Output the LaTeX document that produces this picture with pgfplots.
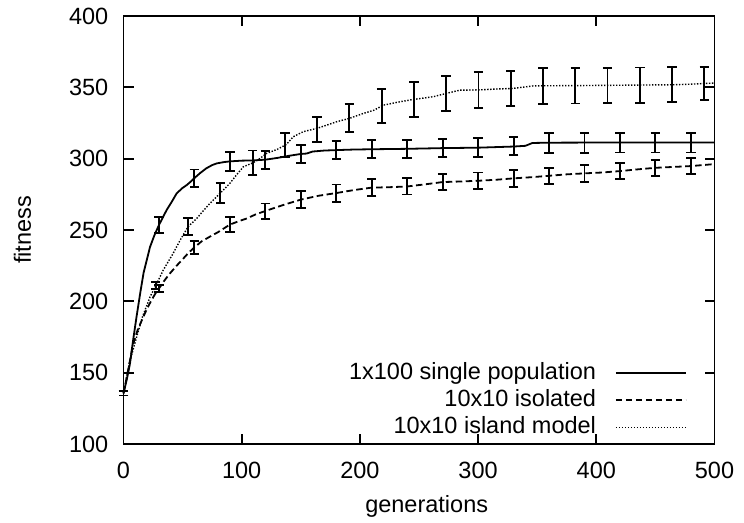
\documentclass[border=0pt]{standalone}
\usepackage{pgfplots}
\pgfplotsset{compat=1.18}
\usepackage{pgfplotstable}
\usepackage{fontspec}
\setmainfont{Liberation Sans}

\pgfplotstableread{
x y
0 135.5
3 146
5.5 156.5
8 172
11 189
14 205
17 220
20 230
22.4 238
26 246
30 253.5
36.5 264
41 270
45 275.7
50 279.5
53.5 281.5
57 284
60 286.4
65 290
70 293.2
75 295.5
79 296.7
85 297.6
90 298.1
100 298.6
110 298.8
120 299.3
130 300.5
140 302
150 303.3
155 303.6
160 305
170 305.7
180 306
195 306.4
210 306.6
240 306.9
270 307.4
300 307.7
330 308.5
340 309
346 311
360 311.2
400 311.3
500 311.4
}\single

\pgfplotstableread{
x y e
0 135.5 1.5
30 253.5 5.8
60 286.4 6
90 298.1 6.5
120 299.3 6.3
150 303.3 6.3
180 305.9 6.4
210 306.6 6.4
240 306.9 6.3
270 307.4 6.1
300 307.8 6.4
330 309 6.4
360 311 6.8
390 311.2 7
420 311.3 7
450 311.3 7
480 311.3 7
}\singleerr

\pgfplotstableread{
x y
0 135.5
4 152
8.3 170.6
12 180
16.8 189.2
20 195
23.8 201
27 205.5
30 209
35 215
39.3 219.6
45 225
50.6 230
55 234
60 237.8
66 242
73 245.3
80 248.5
90 253.8
97 256
104 258
112 261
120 263.3
135 267.5
150 271.3
165 274
180 275.9
195 278
210 279.7
225 280
240 280.5
255 282
270 283.6
285 284
300 284.5
315 285.2
330 286.2
345 287
360 288
375 289
390 289.7
405 290.3
420 291.3
435 292.5
450 293.6
465 294.2
480 294.8
500 296.2
}\isolated

\pgfplotstableread{
x y e
0 135.5 1.5
30 209 2.5
60 237.8 4.5
90 253.8 5
120 263.3 5.3
150 271.3 6
180 275.9 6
210 279.7 6
240 280.7 5.8
270 283.6 5.6
300 284.5 5.8
330 286.2 5.8
360 288 5.7
390 289.7 5.8
420 291.3 5.6
450 293.6 5.5
480 294.8 5.5
}\isolatederr

\pgfplotstableread{
x y
0 135.5
5 157
11.2 175.2
16 189
22.4 203
27.3 211
33.7 222
42 233.6
48 243
54.6 252.3
61.9 258
67 263
73.2 268.7
81.9 275.9
90 282.7
96 289
101.4 294.3
109.8 297.2
115.5 300.2
121 303.7
130 306.5
137.5 309.8
143.7 315.4
152 318.9
163.5 321.2
172 323.5
180.4 325.9
191 328.2
202.9 331.7
212 334
219.8 337.5
233.9 339.9
246 341.6
262 343.4
273.4 345.8
284.5 348
300.8 348.2
315 348.8
328.9 349.2
346.7 351
355.8 351.1
382.6 351.2
410 351.4
437.6 351.6
465 351.8
480 352.2
492 352.7
500 353
}\island

\pgfplotstableread{
x y e
0 135.5 1.5
27.3 211 2.5
54.6 252.3 5.8
81.9 275.9 6.8
109.2 297.2 8.5
136.5 309.8 8.4
163.8 320.6 8.8
191.1 328.5 9.6
218.4 337 11.7
245.7 341.5 12
273 345.7 12
300.3 348 12.5
327.6 349.2 12.4
354.9 351.1 12.5
382.2 351.1 12.4
409.5 351.4 12.3
436.8 351.6 12.3
464.1 351.8 12.3
491.4 352.7 11.7
}\islanderr

\begin{document}
\begin{tikzpicture}[font=\fontsize{23.5bp}{27bp}\selectfont]
\begin{axis}[
  scale only axis,
  width=591bp, height=428bp,
  xmin=0, xmax=500, ymin=100, ymax=400,
  xtick={0,100,...,500}, ytick={100,150,...,400},
  clip=false,
  tick align=inside,
  major tick length=10bp,
  axis line style={line width=1.8bp, black},
  every tick/.style={line width=1.8bp, black},
  /pgf/number format/assume math mode=true,
  yticklabel style={inner sep=0pt, xshift=-15bp},
  xticklabel style={inner sep=0pt, yshift=-17.5bp},
  xlabel={generations},
  ylabel={fitness},
  xlabel style={at={(axis description cs:0.513,-0.1612)}, anchor=base, inner sep=0pt},
  ylabel style={at={(axis description cs:-0.171,0.5)}, anchor=center, inner sep=0pt},
  legend plot pos=right,
  legend cell align=right,
  legend style={draw=none, fill=none, at={(rel axis cs:0.9535,0.013)}, anchor=south east,
    inner sep=0pt, row sep=5bp, column sep=19bp,
    nodes={inner sep=0pt, text height=17bp, text depth=5bp}},
  legend image code/.code={\draw[#1] (0bp,0bp) -- (70bp,0bp);},
]
\addplot[black, line width=1.8bp, solid] table[x=x,y=y] {\single};
\addlegendentry{1x100 single population}
\addplot[black, line width=1.8bp, dash pattern=on 6.5bp off 3.5bp] table[x=x,y=y] {\isolated};
\addlegendentry{10x10 isolated}
\addplot[black, line width=1.4bp, dash pattern=on 1.4bp off 1.6bp] table[x=x,y=y] {\island};
\addlegendentry{10x10 island model}

\addplot[draw=none, mark=none, forget plot,
  error bars/.cd, y dir=both, y explicit,
  error bar style={draw=black, solid, line width=1.9bp},
  error mark options={rotate=90, draw=black, solid, line width=1.9bp, mark size=4.7bp}]
  table[x=x,y=y,y error=e] {\singleerr};
\addplot[draw=none, mark=none, forget plot,
  error bars/.cd, y dir=both, y explicit,
  error bar style={draw=black, solid, line width=1.9bp},
  error mark options={rotate=90, draw=black, solid, line width=1.9bp, mark size=4.7bp}]
  table[x=x,y=y,y error=e] {\isolatederr};
\addplot[draw=none, mark=none, forget plot,
  error bars/.cd, y dir=both, y explicit,
  error bar style={draw=black, solid, line width=1.9bp},
  error mark options={rotate=90, draw=black, solid, line width=1.9bp, mark size=4.7bp}]
  table[x=x,y=y,y error=e] {\islanderr};
\end{axis}
\pgfresetboundingbox
\path[use as bounding box] (-123.5bp,-79bp) rectangle (620.5bp,444bp);
\end{tikzpicture}
\end{document}
